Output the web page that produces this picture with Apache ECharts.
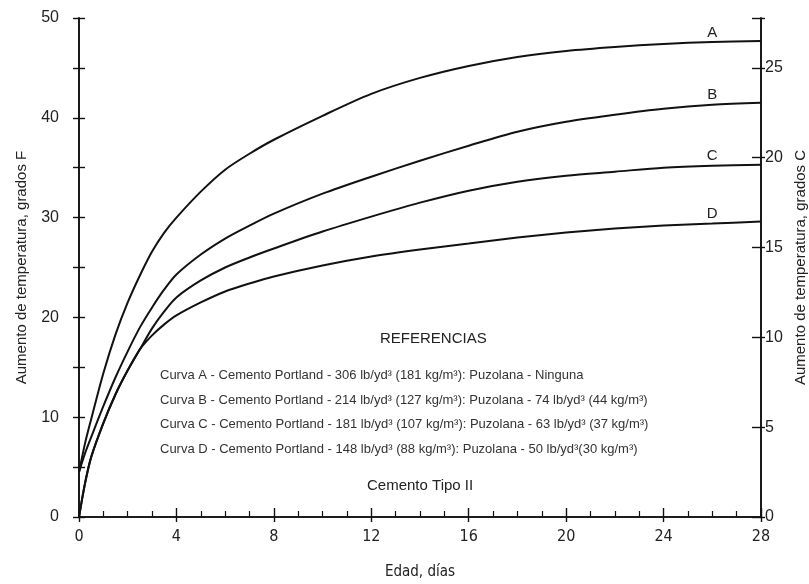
<!DOCTYPE html>
<html>
<head>
<meta charset="utf-8">
<script src="https://cdn.jsdelivr.net/npm/echarts@6/dist/echarts.min.js"></script>
<style>html,body{margin:0;padding:0;background:#fff;overflow:hidden}#c{width:809px;height:584px}</style>
</head>
<body>
<div id="c"></div>
<script>
const days = [0,0.25,0.5,1,1.5,2,2.5,3,3.5,4,5,6,7,8,10,12,14,16,18,20,22,24,26,28];
const curveA = [4.5,7.4,9.8,14.4,18.3,21.5,24.2,26.6,28.5,30.0,32.6,34.8,36.4,37.8,40.2,42.4,44.0,45.2,46.1,46.7,47.1,47.4,47.6,47.7];
const curveB = [4.5,6.4,8.0,11.1,14.0,16.6,19.0,21.0,22.8,24.3,26.3,27.9,29.2,30.4,32.4,34.1,35.7,37.2,38.6,39.6,40.3,40.9,41.3,41.5];
const curveC = [0,3.4,6.0,9.4,12.3,14.7,16.8,18.9,20.6,22.0,23.7,25.0,26.0,26.9,28.6,30.1,31.5,32.7,33.6,34.2,34.6,35.0,35.2,35.3];
const curveD = [0,3.4,6.0,9.4,12.3,14.7,16.8,18.2,19.3,20.2,21.5,22.6,23.4,24.1,25.2,26.1,26.8,27.4,28.0,28.5,28.9,29.2,29.4,29.6];
const curveNames = ['A','B','C','D'];
const labelDay = 26;
const xTickLabels = [0,4,8,12,16,20,24,28];
const fTicks = [0,10,20,30,40,50];
const cTicks = [0,5,10,15,20,25];
const title = 'REFERENCIAS';
const refLines = [
  'Curva A - Cemento Portland - 306 lb/yd³ (181 kg/m³): Puzolana - Ninguna',
  'Curva B - Cemento Portland - 214 lb/yd³ (127 kg/m³): Puzolana - 74 lb/yd³ (44 kg/m³)',
  'Curva C - Cemento Portland - 181 lb/yd³ (107 kg/m³): Puzolana - 63 lb/yd³ (37 kg/m³)',
  'Curva D - Cemento Portland - 148 lb/yd³ (88 kg/m³): Puzolana - 50 lb/yd³(30 kg/m³)'
];
const subtitle = 'Cemento Tipo II';

const FONT = "'Liberation Sans', Arial, sans-serif";
const NARROW = "'DejaVu Sans Condensed', 'Liberation Sans Narrow', 'Liberation Sans', Arial, sans-serif";
const TXT = '#222';

const allCurves = [curveA, curveB, curveC, curveD];
const series = allCurves.map((arr, k) => ({
  type: 'line', name: curveNames[k], xAxisIndex: 0, yAxisIndex: 0,
  data: arr.map((v, i) => [days[i], v]), smooth: 0.3,
  showSymbol: false, symbol: 'none',
  silent: true,
  lineStyle: {color: '#111', width: 2},
  markPoint: {
    symbol: 'rect', symbolSize: [2, 2], silent: true, animation: false,
    itemStyle: {color: 'rgba(0,0,0,0)'},
    label: {show: true, position: 'top', distance: 1, formatter: curveNames[k],
      color: TXT, fontSize: 15, fontFamily: FONT},
    data: [{coord: [labelDay, arr[days.indexOf(labelDay)]]}]
  },
  z: 3
}));

const FMAX = 50;
const CMAX = FMAX * 5 / 9;
const axisLine = {show: true, lineStyle: {color: '#111', width: 1.6}};

const chart = echarts.init(document.getElementById('c'), null, {renderer: 'canvas'});
chart.setOption({
  animation: false,
  backgroundColor: '#fff',
  grid: {left: 79, right: 48, top: 18, bottom: 67, containLabel: false, outerBoundsMode: 'none'},
  xAxis: [
    {type: 'value', position: 'bottom', min: 0, max: 28, interval: 4,
     axisLine: axisLine,
     axisTick: {show: true, inside: true, length: 9, lineStyle: {color: '#111', width: 1.4}},
     minorTick: {show: true, splitNumber: 4, length: 6, lineStyle: {color: '#111', width: 1.2}},
     axisLabel: {show: true, margin: 12, color: TXT, fontSize: 16, fontFamily: NARROW,
       formatter: v => xTickLabels.indexOf(v) >= 0 ? String(v) : ''},
     splitLine: {show: false},
     name: 'Edad, días', nameLocation: 'middle', nameGap: 48,
     nameTextStyle: {color: TXT, fontSize: 15, fontFamily: NARROW}},
    {type: 'value', position: 'bottom', min: 0, max: 28, interval: 4,
     axisLine: axisLine,
     axisTick: {show: true, inside: false, length: 5, lineStyle: {color: '#111', width: 1.4}},
     axisLabel: {show: false}, splitLine: {show: false}}
  ],
  yAxis: [
    {type: 'value', position: 'left', min: 0, max: FMAX, interval: 5,
     axisLine: axisLine,
     axisTick: {show: true, inside: false, length: 6, lineStyle: {color: '#111', width: 1.4}},
     axisLabel: {show: true, margin: 20, color: TXT, fontSize: 16, fontFamily: FONT,
       formatter: v => fTicks.indexOf(v) >= 0 ? String(v) : ''},
     splitLine: {show: false},
     name: 'Aumento de temperatura, grados F', nameLocation: 'middle', nameGap: 50, nameRotate: 90,
     nameTextStyle: {color: TXT, fontSize: 15, fontFamily: FONT}},
    {type: 'value', position: 'left', min: 0, max: FMAX, interval: 5,
     axisLine: axisLine,
     axisTick: {show: true, inside: true, length: 6, lineStyle: {color: '#111', width: 1.4}},
     axisLabel: {show: false}, splitLine: {show: false}},
    {type: 'value', position: 'right', min: 0, max: CMAX, interval: 5,
     axisLine: axisLine,
     axisTick: {show: true, inside: false, length: 4, lineStyle: {color: '#111', width: 1.4}},
     axisLabel: {show: true, margin: 4, color: TXT, fontSize: 16, fontFamily: FONT,
       formatter: v => cTicks.indexOf(v) >= 0 ? String(v) : ''},
     splitLine: {show: false},
     name: 'Aumento de temperatura, grados C', nameLocation: 'middle', nameGap: 32, nameRotate: 90,
     nameTextStyle: {color: TXT, fontSize: 15, fontFamily: FONT}},
    {type: 'value', position: 'right', min: 0, max: CMAX, interval: 5,
     axisLine: axisLine,
     axisTick: {show: true, inside: true, length: 9, lineStyle: {color: '#111', width: 1.4}},
     axisLabel: {show: false}, splitLine: {show: false}}
  ],
  graphic: [
    {type: 'text', left: 380, top: 331, style: {text: title, fill: TXT, fontSize: 15, fontFamily: FONT}},
    ...refLines.map((t, i) => ({type: 'text', left: 160, top: 369 + i * 24.7,
      style: {text: t, fill: '#333', fontSize: 13, fontFamily: FONT}})),
    {type: 'text', left: 367, top: 478, style: {text: subtitle, fill: TXT, fontSize: 15, fontFamily: FONT}}
  ],
  series: series
});
</script>
</body>
</html>
